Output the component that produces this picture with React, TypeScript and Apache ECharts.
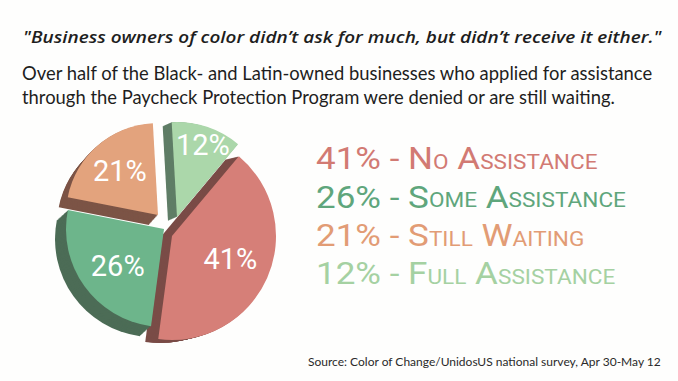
import React, { useEffect, useRef } from "react";
import * as echarts from "echarts";

// ---------- data ----------
const categories = ["No Assistance", "Some Assistance", "Still Waiting", "Full Assistance"];
const values = [41, 26, 21, 12];

const TITLE = "\"Business owners of color didn’t ask for much, but didn’t receive it either.\"";
const SUBTITLE_LINES = [
  "Over half of the Black- and Latin-owned businesses who applied for assistance",
  "through the Paycheck Protection Program were denied or are still waiting.",
];
const SOURCE = "Source: Color of Change/UnidosUS national survey, Apr 30-May 12";

// ---------- style / layout ----------
const faceColors = ["#d67f78", "#6db58b", "#e3a37d", "#abd7aa"];
const sideColors = ["#7a4c47", "#4c6c56", "#7c5446", "#5f7d66"];
const legendColors = ["#d27a73", "#5fa67c", "#e29c75", "#a5d1a2"];

// per-slice apex (exploded centre), radius and extrusion vector
const apexX = [172, 164, 158, 177];
const apexY = [236, 229, 215, 217];
const radii = [104, 98, 92, 95];
const depthDX = [-13, -11, -9, -9];
const depthDY = [3, 10, 10, 4];
const labelDX = [8, -4, -6, 10];
const labelDY = [1, 7, -7, -24];
const DEPTH_STEPS = 12;
const START_ANGLE = 50;

const FONT_TEXT = "Lato";
const FONT_TITLE = "'Open Sans'";
const FONT_DIN = "Roboto";

function smallCaps(text: string, key: string) {
  return text
    .split(" ")
    .map((w) => `{${key}B|${w[0]}}{${key}S|${w.slice(1).toUpperCase()}}`)
    .join(`{${key}B| }`);
}

function buildOption() {
  const series: any[] = [];
  const makeSeries = (i: number, cx: number, cy: number, face: boolean) => ({
    type: "pie",
    silent: true,
    startAngle: START_ANGLE,
    clockwise: true,
    center: [cx, cy],
    radius: radii[i],
    z: face ? 3 : 2,
    avoidLabelOverlap: false,
    emphasis: { disabled: true },
    labelLine: { show: false },
    labelLayout: { dx: labelDX[i], dy: labelDY[i] },
    label: {
      show: false,
      position: "inside",
      formatter: "{c}%",
      color: "#ffffff",
      fontSize: 29,
      fontFamily: FONT_DIN,
      fontWeight: 400,
    },
    data: values.map((v, j) => ({
      value: v,
      name: categories[j],
      itemStyle: {
        color: j === i ? (face ? faceColors[i] : sideColors[i]) : "rgba(0,0,0,0)",
        borderWidth: 0,
      },
      label: { show: face && j === i },
    })),
  });
  // extruded sides first, faces on top
  for (let i = 0; i < values.length; i++) {
    for (let k = DEPTH_STEPS; k >= 1; k--) {
      series.push(
        makeSeries(
          i,
          apexX[i] + (depthDX[i] * k) / DEPTH_STEPS,
          apexY[i] + (depthDY[i] * k) / DEPTH_STEPS,
          false
        )
      );
    }
  }
  for (let i = 0; i < values.length; i++) {
    series.push(makeSeries(i, apexX[i], apexY[i], true));
  }

  const rich: any = {};
  values.forEach((_, i) => {
    rich[`l${i}B`] = {
      fontFamily: FONT_DIN,
      fontSize: 31,
      lineHeight: 31,
      fill: legendColors[i],
      verticalAlign: "bottom",
    };
    rich[`l${i}S`] = {
      fontFamily: FONT_DIN,
      fontSize: 20,
      lineHeight: 20,
      fill: legendColors[i],
      verticalAlign: "bottom",
      padding: [0, 0, 2, 0],
    };
  });

  const legendTexts = values.map((v, i) => ({
    type: "text",
    x: 316,
    y: 174 + i * 38.3,
    scaleX: 1.13,
    style: {
      text: `{l${i}B|${v}% - }` + smallCaps(categories[i], `l${i}`),
      rich,
      fill: legendColors[i],
      textAlign: "left",
      textVerticalAlign: "bottom",
    },
  }));

  return {
    animation: false,
    backgroundColor: "#fefefd",
    series,
    graphic: [
      {
        type: "text",
        x: 23,
        y: 36,
        scaleX: 1.115,
        style: {
          text: TITLE,
          fill: "#1e1e1e",
          font: `italic 600 17px ${FONT_TITLE}`,
          textAlign: "left",
          textVerticalAlign: "middle",
        },
      },
      ...SUBTITLE_LINES.map((t, i) => ({
        type: "text",
        x: 22,
        y: 73 + i * 24,
        style: {
          text: t,
          fill: "#1e1e1e",
          font: `400 18.4px ${FONT_TEXT}`,
          textAlign: "left",
          textVerticalAlign: "middle",
        },
      })),
      ...legendTexts,
      {
        type: "text",
        x: 308,
        y: 361,
        style: {
          text: SOURCE,
          fill: "#2a2a2a",
          font: `400 12px ${FONT_TEXT}`,
          textAlign: "left",
          textVerticalAlign: "middle",
        },
      },
    ],
  };
}

export default function App() {
  const ref = useRef<HTMLDivElement>(null);
  useEffect(() => {
    if (!ref.current) return;
    const chart = echarts.init(ref.current, undefined, { renderer: "svg" });
    chart.setOption(buildOption() as any);
    return () => chart.dispose();
  }, []);
  return (
    <div
      ref={ref}
      style={{ position: "fixed", left: 0, top: 0, width: 678, height: 381 }}
    />
  );
}
